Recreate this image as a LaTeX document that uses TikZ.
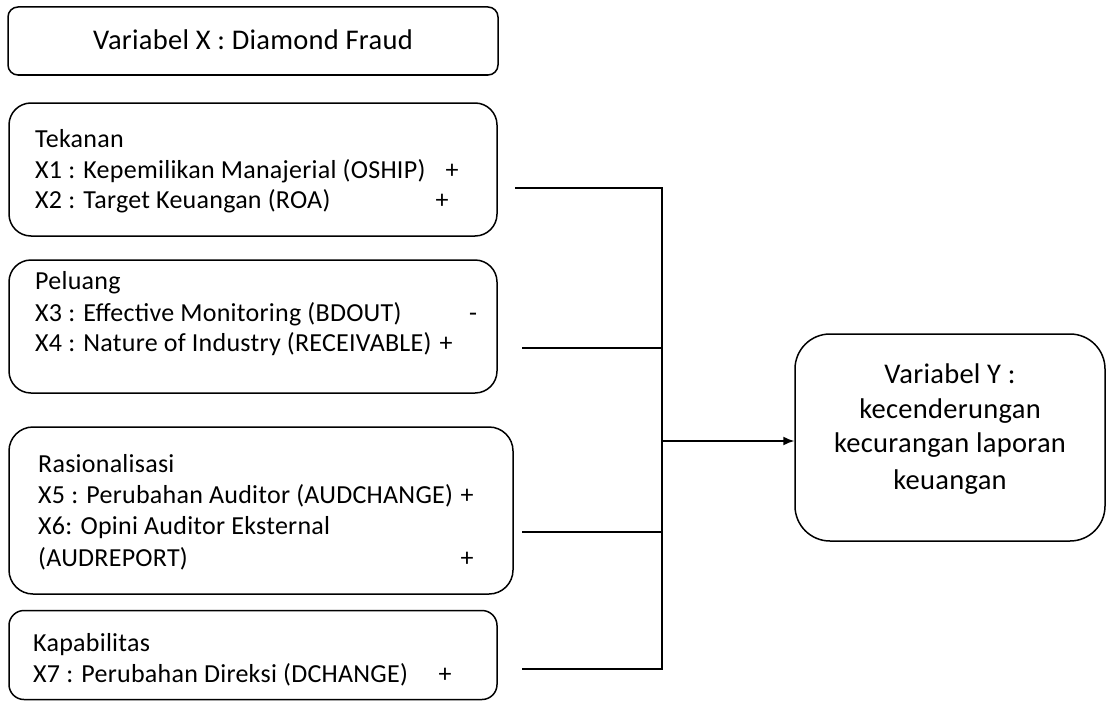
\documentclass[tikz,border=0pt]{standalone}
\usepackage{fontspec}
\setmainfont{Carlito}[LetterSpace=1]
\usetikzlibrary{arrows.meta}
\begin{document}
\begin{tikzpicture}[x=1pt,y=-1pt,
  box/.style={draw, line width=1.5pt, rounded corners=#1, inner sep=0pt},
  box/.default=20pt,
  body/.style={anchor=base west, inner sep=0pt, font=\fontsize{26}{31}\selectfont},
  sign/.style={anchor=base, inner sep=0pt, font=\fontsize{26}{31}\selectfont},
  big/.style={anchor=base, inner sep=0pt, font=\fontsize{28.5}{34}\selectfont},
  conn/.style={line width=1.5pt, line join=miter}]
\useasboundingbox (0,0) rectangle (1108,701);

% boxes
\node[box=10pt, minimum width=490pt, minimum height=68pt] (title) at (253,41) {};
\node[box=22pt, minimum width=488pt, minimum height=133pt] (tek) at (253,169.5) {};
\node[box=22pt, minimum width=488pt, minimum height=133pt] (pel) at (253,326.5) {};
\node[box=24pt, minimum width=504pt, minimum height=167pt] (ras) at (261,510.5) {};
\node[box=15pt, minimum width=488pt, minimum height=89pt] (kap) at (253,655) {};
\node[box=35pt, minimum width=310pt, minimum height=207pt] (ybox) at (950,437.5) {};

% texts
\node[big] (titletext) at (253,50) {Variabel X : Diamond Fraud};

\node[body] (t0) at (35,147) {Tekanan};
\node[body] (t1) at (35,178) {X1 : Kepemilikan Manajerial (OSHIP)};
\node[sign] (t1s) at (452,178) {+};
\node[body] (t2) at (35,208) {X2 : Target Keuangan (ROA)};
\node[sign] (t2s) at (442,208) {+};

\node[body] (p0) at (35,289) {Peluang};
\node[body] (p1) at (35,321) {X3 : Effective Monitoring (BDOUT)};
\node[sign] (p1s) at (473,321) {-};
\node[body] (p2) at (35,351) {X4 : Nature of Industry (RECEIVABLE)};
\node[sign] (p2s) at (446,351) {+};

\node[body] (r0) at (38,472) {Rasionalisasi};
\node[body] (r1) at (38,503) {X5 : Perubahan Auditor (AUDCHANGE)};
\node[sign] (r1s) at (467,503) {+};
\node[body] (r2) at (38,534) {X6: Opini Auditor Eksternal};
\node[body] (r3) at (38,566) {(AUDREPORT)};
\node[sign] (r3s) at (467,566) {+};

\node[body] (k0) at (33,651) {Kapabilitas};
\node[body] (k1) at (33,682) {X7 : Perubahan Direksi (DCHANGE)};
\node[sign] (k1s) at (445,682) {+};

\node[big] (y0) at (950,383) {Variabel Y :};
\node[big] (y1) at (950,418) {kecenderungan};
\node[big] (y2) at (950,452) {kecurangan laporan};
\node[big] (y3) at (950,489) {keuangan};

% connectors
\coordinate (ct) at (515,188);
\coordinate (cp) at (522,348);
\coordinate (cr) at (522,532);
\coordinate (ck) at (522,669);
\coordinate (jt) at (662,188);
\coordinate (jk) at (662,669);
\coordinate (ja) at (662,441);
\draw[conn] (ct) -- (jt) -- (jk) -- (ck);
\draw[conn] (cp) -- (cp -| jt);
\draw[conn] (cr) -- (cr -| jt);
\draw[conn, -{Latex[length=11pt,width=9pt]}] (ja) -- (ja -| ybox.west);
\end{tikzpicture}
\end{document}
